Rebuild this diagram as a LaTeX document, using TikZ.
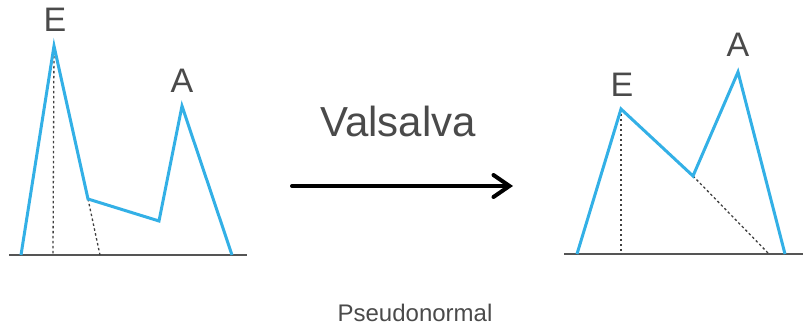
\documentclass[tikz,border=0pt]{standalone}
\usepackage{fontspec}
\setmainfont{Liberation Sans}
\usetikzlibrary{arrows.meta}
\definecolor{wave}{HTML}{33B0E6}
\definecolor{labelgray}{HTML}{4A4A4A}
\definecolor{axisgray}{HTML}{555555}
\tikzset{
  trace/.style={draw=wave, line width=3pt, line join=miter},
  axisline/.style={draw=axisgray, line width=2pt},
  guide/.style={draw=black!75, line width=1.3pt, dash pattern=on 2.5pt off 2.5pt},
  peaklabel/.style={text=labelgray, font=\fontsize{34}{34}\selectfont, anchor=base, inner sep=0pt},
}
\begin{document}
\begin{tikzpicture}[x=1pt, y=-1pt]
\useasboundingbox (0,0) rectangle (804,328);

% left tracing: tall E wave, small A wave
\coordinate (l0) at (21,255);
\coordinate (lE) at (54,46);
\coordinate (lN) at (88,199);
\coordinate (lV) at (159,221);
\coordinate (lA) at (182,106);
\coordinate (l1) at (232,255);
\coordinate (lEb) at (53,255);
\coordinate (lNb) at (100,255);
\coordinate (laxL) at (9,255);
\coordinate (laxR) at (247,255);
\draw[axisline] (laxL) -- (laxR);
\draw[guide] (lE) -- (lEb);
\draw[guide] (lN) -- (lNb);
\draw[trace] (l0) -- (lE) -- (lN) -- (lV) -- (lA) -- (l1);
\node[peaklabel] (lEtxt) at (55,32) {E};
\node[peaklabel] (lAtxt) at (182,93) {A};

% right tracing: reversed E/A after Valsalva
\coordinate (r0) at (577,254);
\coordinate (rE) at (621,109);
\coordinate (rV) at (693,176);
\coordinate (rA) at (738,72);
\coordinate (r1) at (785,254);
\coordinate (rEb) at (621,254);
\coordinate (rVb) at (769,254);
\coordinate (raxL) at (564,254);
\coordinate (raxR) at (803,254);
\draw[axisline] (raxL) -- (raxR);
\draw[guide] (rE) -- (rEb);
\draw[guide] (rV) -- (rVb);
\draw[trace] (r0) -- (rE) -- (rV) -- (rA) -- (r1);
\node[peaklabel] (rEtxt) at (622,97) {E};
\node[peaklabel] (rAtxt) at (738,57) {A};

% manoeuvre arrow
\coordinate (arrS) at (292,186);
\coordinate (arrT) at (513,186);
\draw[line width=4pt, line cap=round, -{Straight Barb[length=16pt, width=22pt, line cap=round]}] (arrS) -- (arrT);
\node[text=labelgray, font=\fontsize{42}{42}\selectfont, anchor=base, inner sep=0pt] (valsalva) at (398,137) {Valsalva};

\node[text=labelgray, font=\fontsize{24}{24}\selectfont, anchor=base, inner sep=0pt] (caption) at (415,322) {Pseudonormal};
\end{tikzpicture}
\end{document}
